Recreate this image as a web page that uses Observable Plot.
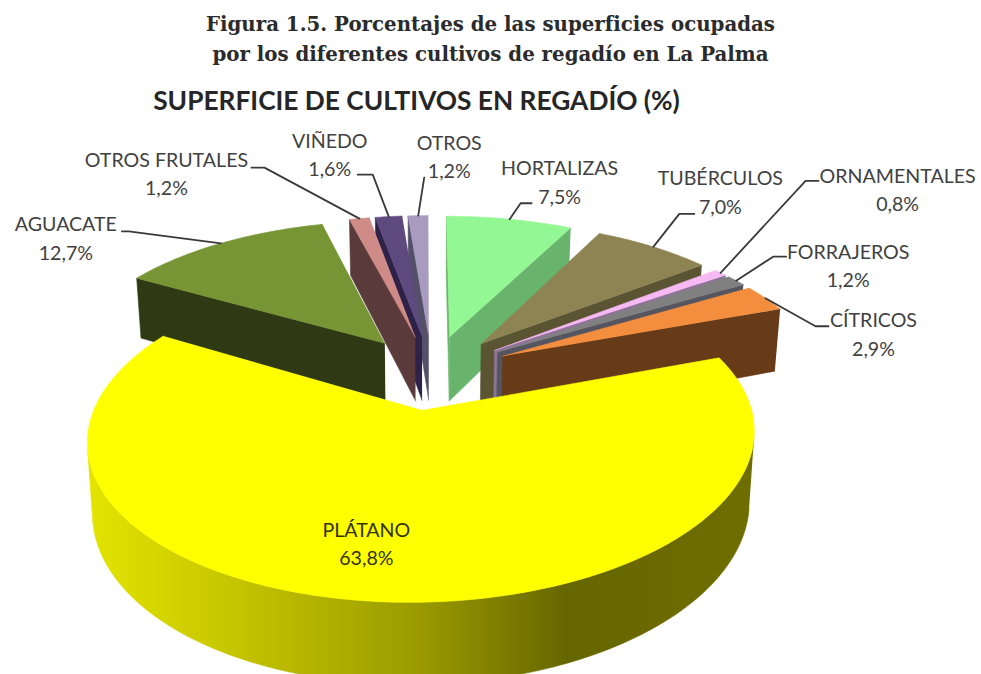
<!DOCTYPE html>
<html lang="es">
<head>
<meta charset="utf-8">
<script src="https://cdn.jsdelivr.net/npm/d3@7"></script>
<script src="https://cdn.jsdelivr.net/npm/@observablehq/plot@0.6"></script>
<style>
html,body{margin:0;padding:0;background:#fff;overflow:hidden;width:981px;height:674px}
#fig{font:bold 19.8px/30px "DejaVu Serif",serif;color:#2b2b2b;text-align:center;position:absolute;left:0;top:9px;width:981px}
#sub{font:bold 26.3px/30px Lato,sans-serif;color:#262626;position:absolute;left:0;top:85px;width:833px;text-align:center}
#chart{position:absolute;left:0;top:130px}
</style>
</head>
<body>
<div id="fig">Figura 1.5. Porcentajes de las superficies ocupadas<br>por los diferentes cultivos de regadío en La Palma</div>
<div id="sub">SUPERFICIE DE CULTIVOS EN REGADÍO (%)</div>
<div id="chart"></div>
<script>
// ---- data ----
const categories = ["HORTALIZAS","TUBÉRCULOS","ORNAMENTALES","FORRAJEROS","CÍTRICOS","PLÁTANO","AGUACATE","OTROS FRUTALES","VIÑEDO","OTROS"];
const values = [7.5,7.0,0.8,1.2,2.9,63.8,12.7,1.2,1.6,1.2];
// ---- styles ----
const topColors  = ["#93f793","#8e8453","#f6b9f4","#808080","#f28e3e","#ffff00","#789535","#cf8b87","#5f4a80","#a99bc0"];
const wallColors = ["#69b46c","#5a5432","#8f7499","#55555f","#673a18","url(#platanoWall)","#2f3a14","#5a3a3a","#2e2248","#55506a"];
// ---- label layout: offsets from each slice's arc midpoint ----
const textOffsets = [[50,-53],[67,-71],[177,-99],[112,-31],[108,20],[-10,-74],[-155,-21],[-193,-61],[-59,-78],[31,-75]];
const elbowOffsets = [[11,-16],[26,-33],[85,-92],[37,-24],[50,28],null,[-92,-12],[-95,-51],[-16,-42],[6,-38]];
const endOffsets = [[22,-16],[41,-33],[98,-92],[50,-24],[63,28],null,[-99,-12],[-108,-51],[-31,-42],[6,-38]];
// ---- projection of the tilted disc ----
const view = {cx:425, cy:410, a:329, b:161.3, p:0.16, h:69, k:0.015, explode:0.249, u0:0.02, v0:-0.249};
// the big front slice sits slightly skewed; the exploded back slices slightly wider
const lens = categories.map(c => c === "PLÁTANO" ? {shift:-2.5, shear:-11, widen:1} : {shift:0, shear:0, widen:1.012});
const project = (u, v, l) => {
  const d = 1 - view.p * v;
  return {x: view.cx + l.shift + l.widen * view.a * u / d + l.shear * v / d, y: view.cy + view.b * v / d, d};
};
const lower = (q) => ({x: view.cx + (q.x - view.cx) * (1 - view.k), y: q.y + view.h / q.d});

const total = d3.sum(values);
let running = 0;
const slices = categories.map((name, i) => {
  const t0 = running / total * 2 * Math.PI;
  running += values[i];
  const t1 = running / total * 2 * Math.PI;
  const mid = (t0 + t1) / 2;
  const ou = view.u0 + view.explode * Math.sin(mid);
  const ov = view.v0 - view.explode * Math.cos(mid);
  const steps = Math.max(3, Math.ceil((t1 - t0) / 0.02));
  const arc = d3.range(steps + 1).map(s => {
    const t = t0 + (t1 - t0) * s / steps;
    return project(ou + Math.sin(t), ov - Math.cos(t), lens[i]);
  });
  const apex = project(ou, ov, lens[i]);
  return {name, value: values[i], i, mid, apex, arc, anchor: project(ou + Math.sin(mid), ov - Math.cos(mid), lens[i])};
});

const faces = (A, B) => {            // wall under edge A->B, kept when it faces the viewer
  const q = [A, B, lower(B), lower(A)];
  const area = d3.sum(q, (p, n) => { const r = q[(n + 1) % 4]; return p.x * r.y - r.x * p.y; });
  return area < 0;
};
const poly = (pts, color, clip) => Plot.line(pts, {x:"x", y:"y", fill:color, stroke:color, strokeWidth:0.6, clip});

const marks = [
  () => {
    const g = d3.create("svg:linearGradient").attr("id","platanoWall");
    [[0,"#e4e400"],[0.2,"#c8c800"],[0.5,"#9a9a00"],[0.72,"#666600"],[1,"#6e6e00"]].forEach(([o,c]) =>
      g.append("stop").attr("offset",o).attr("stop-color",c));
    return g.node();
  }
];
[...slices].sort((a, b) => Math.cos(b.mid) - Math.cos(a.mid)).forEach(s => {
  const first = s.arc[0], last = s.arc[s.arc.length - 1];
  const wall = wallColors[s.i];
  if (faces(s.apex, first)) marks.push(poly([s.apex, first, lower(first), lower(s.apex)], wall));
  if (faces(last, s.apex)) marks.push(poly([last, s.apex, lower(s.apex), lower(last)], wall));
  const front = s.arc.filter((p, n) => {
    const nb = s.arc[n + 1] , pb = s.arc[n - 1];
    return (nb && faces(p, nb)) || (pb && faces(pb, p));
  });
  if (front.length > 1) marks.push(poly([...front, ...[...front].reverse().map(lower)], wall, true));
  marks.push(poly([s.apex, ...s.arc], topColors[s.i]));
});

const leaders = slices.filter(s => elbowOffsets[s.i]).map(s => [
  {id:s.i, x:s.anchor.x, y:s.anchor.y},
  {id:s.i, x:s.anchor.x + elbowOffsets[s.i][0], y:s.anchor.y + elbowOffsets[s.i][1]},
  {id:s.i, x:s.anchor.x + endOffsets[s.i][0], y:s.anchor.y + endOffsets[s.i][1]}
]).flat();
marks.push(Plot.line(leaders, {x:"x", y:"y", z:"id", stroke:"#3a3a3a", strokeWidth:1.8}));

const lineStep = 28.5, labelSize = 19.6;
marks.push(Plot.text(slices, {
  x: s => s.anchor.x + textOffsets[s.i][0],
  y: s => s.anchor.y + textOffsets[s.i][1] + lineStep / 2,
  text: s => `${s.name}\n${s.value.toFixed(1).replace(".", ",")}%`,
  fontSize: labelSize,
  lineHeight: lineStep / labelSize,
  lineAnchor: "middle",
  fill: s => s.name === "PLÁTANO" ? "#333300" : "#414141",
  fontFamily: "Lato, sans-serif"
}));

const plot = Plot.plot({
  width: 981, height: 544,
  margin: 0,
  x: {domain:[0,981], range:[0,981], axis:null},
  y: {domain:[130,674], range:[0,544], axis:null},
  color: {type:"identity"},
  style: {background:"transparent"},
  marks
});
document.getElementById("chart").append(plot);
</script>
</body>
</html>
